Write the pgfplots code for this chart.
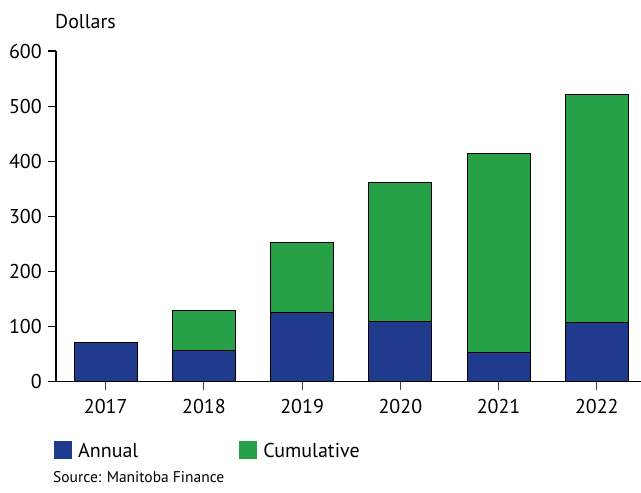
\documentclass[border=0pt]{standalone}
\usepackage{fontspec}
\setmainfont{PT Sans}
\usepackage{pgfplots}
\pgfplotsset{compat=1.18}
\definecolor{annual}{RGB}{32,58,142}
\definecolor{cumul}{RGB}{39,161,72}
\begin{document}
\begin{tikzpicture}[x=1pt,y=1pt]
\useasboundingbox (0,0) rectangle (641,493);
\begin{axis}[
 at={(56pt,111.5pt)}, anchor=south west,
 width=585pt, height=330.5pt, scale only axis,
 ybar stacked, bar width=63pt,
 xmin=-0.506, xmax=5.45, ymin=0, ymax=600,
 xtick={0,1,2,3,4,5},
 xticklabels={2017,2018,2019,2020,2021,2022},
 ytick={0,100,200,300,400,500,600},
 axis x line=bottom, axis y line=left,
 axis line style={-, black, line width=1.1pt},
 x axis line style={shorten <=-8pt},
 tick align=outside, major tick length=8pt,
 ytick style={black, line width=1.1pt},
 xtick style={black!75, line width=1.1pt},
 /pgf/number format/assume math mode=true,
 tick label style={font=\fontsize{20}{20}\selectfont},
 yticklabel style={inner sep=0pt, xshift=-6pt},
 xticklabel style={inner sep=0pt, yshift=-10pt},
 legend columns=2,
 legend style={draw=none, fill=none, inner sep=0pt, at={(axis description cs:-0.0034,-0.18)}, anchor=north west,
   font=\fontsize{20}{20}\selectfont,
   nodes={inner sep=0pt},
   /tikz/every odd column/.append style={column sep=6pt},
   /tikz/every even column/.append style={column sep=101pt}},
 legend image code/.code={\path[#1,draw=none] (0pt,-8pt) rectangle (18pt,10pt);},
]
\addplot[fill=annual, draw=black, line width=1pt] coordinates {(0,70) (1,57) (2,126) (3,109) (4,52) (5,108)};
\addplot[fill=cumul, draw=black, line width=1pt] coordinates {(0,0) (1,71) (2,127) (3,253) (4,362) (5,413)};
\legend{Annual, Cumulative}
\end{axis}
\node[anchor=base west, inner sep=0pt, font=\fontsize{20}{20}\selectfont] at (55,464) {Dollars};
\node[anchor=base west, inner sep=0pt, font=\fontsize{15.5}{15.5}\selectfont] at (53,10) {Source: Manitoba Finance};
\end{tikzpicture}
\end{document}
